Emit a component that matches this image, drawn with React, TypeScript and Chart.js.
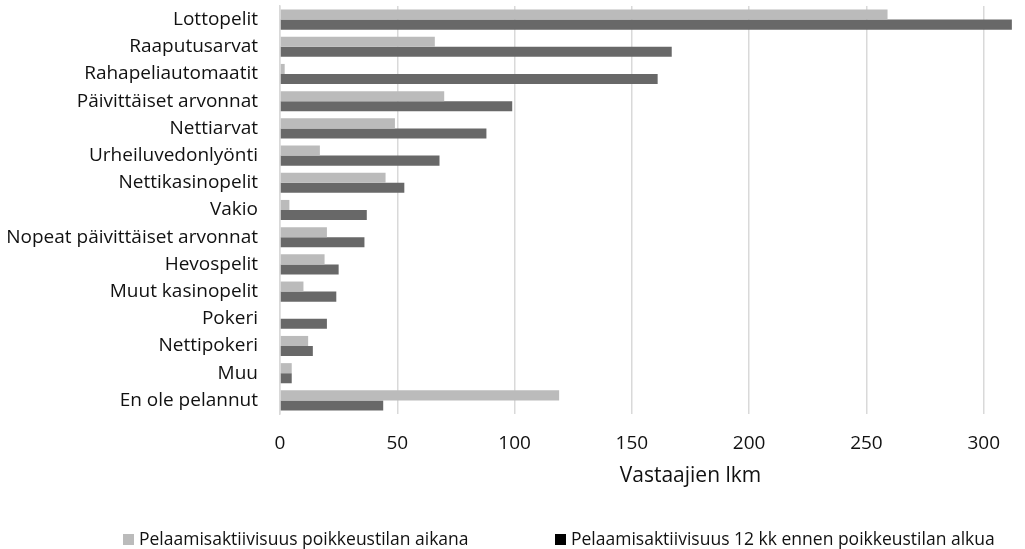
import { useEffect, useRef } from "react";
import { Chart, registerables } from "chart.js";

Chart.register(...registerables);

const categories = [
  "Lottopelit",
  "Raaputusarvat",
  "Rahapeliautomaatit",
  "Päivittäiset arvonnat",
  "Nettiarvat",
  "Urheiluvedonlyönti",
  "Nettikasinopelit",
  "Vakio",
  "Nopeat päivittäiset arvonnat",
  "Hevospelit",
  "Muut kasinopelit",
  "Pokeri",
  "Nettipokeri",
  "Muu",
  "En ole pelannut",
];

const duringValues = [259, 66, 2, 70, 49, 17, 45, 4, 20, 19, 10, 0, 12, 5, 119];
const beforeValues = [312, 167, 161, 99, 88, 68, 53, 37, 36, 25, 24, 20, 14, 5, 44];

const seriesLabels = [
  "Pelaamisaktiivisuus poikkeustilan aikana",
  "Pelaamisaktiivisuus 12 kk ennen poikkeustilan alkua",
];
const seriesColors = ["#BBBBBB", "#686868"];
const legendMarkerColors = ["#BBBBBB", "#000000"];

const xMin = 0;
const xMax = 350;
const xStep = 50;
const xTitle = "Vastaajien lkm";

const FONT = "'Open Sans', 'DejaVu Sans', sans-serif";
const TEXT_COLOR = "#111111";

export default function App() {
  const ref = useRef<HTMLCanvasElement | null>(null);

  useEffect(() => {
    document.body.style.margin = "0";
    const canvas = ref.current;
    if (!canvas) return;

    const legendPlugin = {
      id: "bottomLegend",
      afterDraw(chart: any) {
        const ctx = chart.ctx as CanvasRenderingContext2D;
        const items = [
          { x: 123, text: seriesLabels[0], color: legendMarkerColors[0] },
          { x: 555, text: seriesLabels[1], color: legendMarkerColors[1] },
        ];
        const cy = 540;
        ctx.save();
        ctx.textBaseline = "middle";
        ctx.textAlign = "left";
        ctx.font = `17.5px ${FONT}`;
        items.forEach((it) => {
          ctx.fillStyle = it.color;
          ctx.fillRect(it.x, cy - 6, 11, 11);
          ctx.fillStyle = TEXT_COLOR;
          ctx.fillText(it.text, it.x + 16, cy);
        });
        ctx.restore();
      },
    };

    const chart = new Chart(canvas, {
      type: "bar",
      data: {
        labels: categories,
        datasets: [
          {
            label: seriesLabels[0],
            data: duringValues,
            backgroundColor: seriesColors[0],
            borderWidth: 0,
            barPercentage: 1,
            categoryPercentage: 0.74,
          },
          {
            label: seriesLabels[1],
            data: beforeValues,
            backgroundColor: seriesColors[1],
            borderWidth: 0,
            barPercentage: 1,
            categoryPercentage: 0.74,
          },
        ],
      },
      options: {
        indexAxis: "y",
        responsive: false,
        animation: false,
        layout: { padding: { top: 6, right: 20, bottom: 55, left: 0 } },
        plugins: {
          legend: { display: false },
          tooltip: { enabled: false },
        },
        scales: {
          x: {
            min: xMin,
            max: xMax,
            ticks: {
              stepSize: xStep,
              color: TEXT_COLOR,
              font: { family: FONT, size: 19 },
              padding: 18,
              maxRotation: 0,
            },
            grid: {
              color: "#D9D9D9",
              lineWidth: 1.5,
              drawTicks: false,
            },
            border: { display: false },
            title: {
              display: true,
              text: xTitle,
              color: TEXT_COLOR,
              font: { family: FONT, size: 21 },
              padding: { top: 0, bottom: 5 },
            },
            afterFit(scale: any) {
              scale.height = 80;
              scale.paddingLeft = 0;
              scale.paddingRight = 0;
            },
          },
          y: {
            ticks: {
              color: TEXT_COLOR,
              font: { family: FONT, size: 19 },
              padding: 22,
              autoSkip: false,
            },
            grid: { display: false, drawTicks: false },
            border: { display: true, color: "#D9D9D9", width: 1.5 },
            afterFit(scale: any) {
              scale.width = 280;
              scale.paddingTop = 0;
              scale.paddingBottom = 0;
            },
          },
        },
      },
      plugins: [legendPlugin],
    });

    return () => chart.destroy();
  }, []);

  return (
    <div style={{ width: 1025, height: 549, overflow: "hidden", position: "relative" }}>
      <canvas ref={ref} width={1121} height={549} style={{ display: "block" }} />
    </div>
  );
}
